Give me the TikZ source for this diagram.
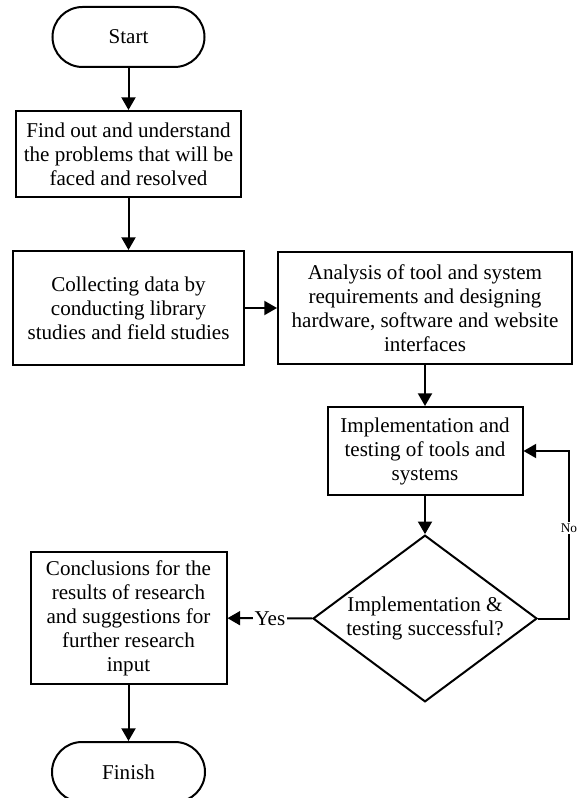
\documentclass[tikz,border=0pt]{standalone}
\usepackage{fontspec}
\setmainfont{Liberation Serif}
\usetikzlibrary{shapes.geometric}
\usetikzlibrary{arrows.meta}

\tikzset{
  terminal/.style={draw, line width=1.5pt, rounded corners=22.5pt, minimum width=114pt, minimum height=45pt, inner sep=0pt, font=\fontsize{15.8}{18}\selectfont},
  process/.style={draw, line width=1.5pt, align=center, inner sep=1pt, font=\fontsize{15.8}{18}\selectfont},
  decision/.style={draw, diamond, line width=1.5pt, minimum width=168pt, minimum height=125pt, inner sep=0pt},
  flow/.style={line width=1.5pt, -{Triangle[length=9.5pt,width=10.5pt]}},
  answer/.style={fill=white, inner sep=1pt},
}

\begin{document}
\begin{tikzpicture}[x=0.75pt,y=0.75pt,yscale=-1,xscale=1]
\useasboundingbox (0,0) rectangle (583,798);

%Shape: Terminal [id:start]
\node[terminal] (start) at (128.5,37) {Start};
%Shape: Rectangle [id:find]
\node[process, minimum width=168.75pt, minimum height=64.5pt] (find) at (128.5,154) {Find out and understand\\the problems that will be\\faced and resolved};
%Shape: Rectangle [id:collect]
\node[process, minimum width=173.25pt, minimum height=85.5pt] (collect) at (128.5,308) {Collecting data by\\conducting library\\studies and field studies};
%Shape: Rectangle [id:analysis]
\node[process, minimum width=220.5pt, minimum height=84pt] (analysis) at (425,308) {Analysis of tool and system\\requirements and designing\\hardware, software and website\\interfaces};
%Shape: Rectangle [id:impl]
\node[process, minimum width=146.25pt, minimum height=66pt] (impl) at (425,451) {Implementation and\\testing of tools and\\systems};
%Shape: Diamond [id:test]
\node[decision] (test) at (425,618.5) {};
\node[align=center, font=\fontsize{15.8}{18}\selectfont] (testtext) at (test) {Implementation \&\\testing successful?};
%Shape: Rectangle [id:concl]
\node[process, minimum width=147pt, minimum height=99pt] (concl) at (128.5,618) {Conclusions for the\\results of research\\and suggestions for\\further research\\input};
%Shape: Terminal [id:finish]
\node[terminal, minimum width=114.75pt] (finish) at (128.5,772) {Finish};

%Straight Lines
\draw[flow] (start) -- (find);
\draw[flow] (find) -- (collect);
\draw[flow] (collect) -- (analysis);
\draw[flow] (analysis) -- (impl);
\draw[flow] (impl) -- (test);
\draw[flow] (test) -- node[answer, font=\fontsize{15.8}{18}\selectfont] (yes) {Yes} (concl);
\draw[flow] (concl) -- (finish);
%Boxed Line
\coordinate (noturn) at (569,618.5);
\draw[flow] (test.east) -- (noturn) |- node[answer, pos=0.27, font=\fontsize{10}{12}\selectfont] (no) {No} (impl.east);

\end{tikzpicture}
\end{document}
